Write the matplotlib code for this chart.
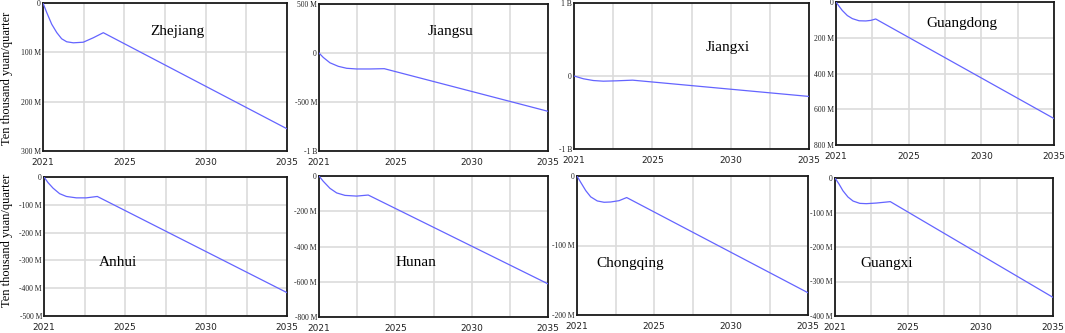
import matplotlib
matplotlib.use("Agg")
import matplotlib.pyplot as plt

# values, years vs. million (ten thousand yuan/quarter)
zhejiang_t = [2021, 2021.21, 2021.50, 2021.79, 2022.07, 2022.36, 2022.74, 2023.31, 2023.89, 2024.46, 2035]
zhejiang_v = [0, -19, -43, -60, -72.5, -78.6, -80.7, -79.5, -70.4, -60.2, -255]

jiangsu_t = [2021, 2021.26, 2021.67, 2022.18, 2022.69, 2023.30, 2024.11, 2024.99, 2035]
jiangsu_v = [0, -45, -100, -136, -156, -163, -163, -160, -595]

jiangxi_t = [2021, 2021.56, 2022.15, 2022.75, 2023.54, 2024.49, 2035]
jiangxi_v = [0, -38, -62, -71, -66, -57, -280]

guangdong_t = [2021, 2021.19, 2021.40, 2021.73, 2022.05, 2022.48, 2022.91, 2023.23, 2023.55, 2035]
guangdong_v = [0, -23, -47, -76, -93, -105, -106, -103, -95, -652]

anhui_t = [2021, 2021.23, 2021.52, 2021.90, 2022.29, 2022.86, 2023.44, 2024.07, 2035]
anhui_v = [0, -20, -40, -60, -70, -75, -75, -70, -416]

hunan_t = [2021, 2021.26, 2021.67, 2022.08, 2022.59, 2023.30, 2024.01, 2035]
hunan_v = [0, -30, -70, -96, -110, -114, -108, -612]

chongqing_t = [2021, 2021.22, 2021.53, 2021.83, 2022.23, 2022.64, 2023.04, 2023.55, 2024.01, 2035]
chongqing_v = [0, -8.9, -21, -30, -35.9, -37.8, -37.4, -35.5, -31, -168]

guangxi_t = [2021, 2021.26, 2021.51, 2021.83, 2022.16, 2022.59, 2023.01, 2023.65, 2024.30, 2024.55, 2035]
guangxi_v = [0, -17.6, -37, -55, -66.8, -73.5, -74.4, -72.6, -69.7, -68.5, -346]

x_ticks = [2021 + k * 14 / 6 for k in range(7)]
x_labels = ["2021", "", "2025", "", "2030", "", "2035"]

# name, t, v, (left, top, right, bottom) in px, yticks, ylabels, label pos (px)
panels = [
    ("Zhejiang", zhejiang_t, zhejiang_v, (43, 3, 287, 151),
     [0, -100, -200, -300], ["0", "100 M", "200 M", "300 M"], (177, 32)),
    ("Jiangsu", jiangsu_t, jiangsu_v, (319, 4, 548, 151),
     [500, 0, -500, -1000], ["500 M", "0", "-500 M", "-1 B"], (450, 32)),
    ("Jiangxi", jiangxi_t, jiangxi_v, (574, 3, 809, 149),
     [1000, 0, -1000], ["1 B", "0", "-1 B"], (728, 48)),
    ("Guangdong", guangdong_t, guangdong_v, (836, 2, 1054, 145),
     [0, -200, -400, -600, -800], ["0", "200 M", "400 M", "600 M", "800 M"], (962, 23)),
    ("Anhui", anhui_t, anhui_v, (44, 177, 287, 316),
     [0, -100, -200, -300, -400, -500], ["0", "-100 M", "-200 M", "-300 M", "-400 M", "-500 M"], (118, 263)),
    ("Hunan", hunan_t, hunan_v, (319, 176, 548, 317),
     [0, -200, -400, -600, -800], ["0", "-200 M", "-400 M", "-600 M", "-800 M"], (416, 263)),
    ("Chongqing", chongqing_t, chongqing_v, (577, 176, 808, 315),
     [0, -100, -200], ["0", "-100 M", "-200 M"], (630, 264)),
    ("Guangxi", guangxi_t, guangxi_v, (835, 178, 1053, 316),
     [0, -100, -200, -300, -400], ["0", "-100 M", "-200 M", "-300 M", "-400 M"], (887, 264)),
]

W, H = 1065, 333
fig = plt.figure(figsize=(W / 100, H / 100), dpi=100)
serif = "Liberation Serif"

for name, t, v, (l, tp, r, b), yt, yl, (tx, ty) in panels:
    ax = fig.add_axes([l / W, 1 - b / H, (r - l) / W, (b - tp) / H])
    ax.plot(t, v, color="#6464ff", lw=0.9, zorder=3)
    ax.set_xlim(2021, 2035)
    ax.set_ylim(min(yt), max(yt))
    ax.set_xticks(x_ticks)
    ax.set_xticklabels(x_labels, fontsize=6.5, family="DejaVu Sans", color="#222222")
    ax.set_yticks(yt)
    ax.set_yticklabels(yl, fontsize=5.5, family=serif, color="#222222")
    ax.tick_params(length=0)
    ax.tick_params(axis="x", pad=5)
    ax.tick_params(axis="y", pad=1.5)
    ax.grid(True, color="#dcdcdc", lw=1.2, zorder=0)
    for s in ax.spines.values():
        s.set_linewidth(1.3)
        s.set_color("#1a1a1a")
    fig.text(tx / W, 1 - ty / H, name, ha="center", va="center",
             fontsize=11, family=serif)

fig.text(7 / W, 1 - 78 / H, "Ten thousand yuan/quarter", rotation=90,
         ha="center", va="center", fontsize=9, family=serif)
fig.text(7 / W, 1 - 240 / H, "Ten thousand yuan/quarter", rotation=90,
         ha="center", va="center", fontsize=9, family=serif)

fig.savefig("out.png", dpi=100)
